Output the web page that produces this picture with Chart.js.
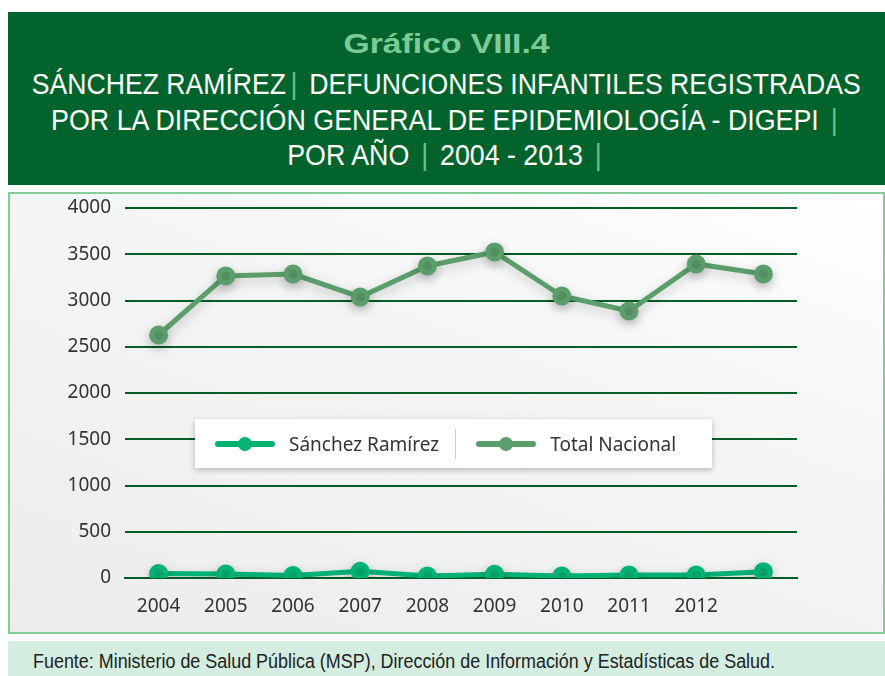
<!DOCTYPE html>
<html>
<head>
<meta charset="utf-8">
<script src="https://cdn.jsdelivr.net/npm/chart.js@4.4.1/dist/chart.umd.min.js"></script>
<style>
  body { margin: 0; width: 885px; height: 676px; background: #fff; position: relative; overflow: hidden; font-family: "Noto Sans", sans-serif; }
  #header { position: absolute; left: 8px; top: 12px; width: 877px; height: 173px; background: #02642c; color: #fff; font-family: "Liberation Sans", sans-serif; overflow: hidden; }
  .fit { position: absolute; left: 0; width: 877px; display: flex; justify-content: center; white-space: nowrap; }
  .fit span.in { display: inline-block; flex: none; transform-origin: center center; }
  #header .sub { color: #7ccb96; font-weight: bold; font-size: 27px; top: 17px; line-height: 30px; }
  #header .t { font-size: 30px; line-height: 34px; }
  #header .p { color: #6fbf8a; padding: 0 5px; }
  #panel { position: absolute; left: 8px; top: 192px; width: 873px; height: 438px; border: 2px solid #84cd97;
           background: linear-gradient(200deg, #ffffff 0%, #f4f5f5 40%, #ececed 100%); }
  #chartWrap { position: absolute; left: 0; top: 0; width: 873px; height: 438px; }
  #legend { position: absolute; left: 185px; top: 225px; width: 517px; height: 49px; background: #fff;
            box-shadow: 0 2px 6px rgba(0,0,0,0.25); display: flex; align-items: center; font-size: 19px; color: #333; }
  #legend .item { display: flex; align-items: center; }
  #legend .sample { position: relative; width: 60px; height: 6px; border-radius: 3px; margin: 0 14px 0 20px; }
  #legend .sample i { position: absolute; left: 23px; top: -4px; width: 14px; height: 14px; border-radius: 7px; }
  #legend .sep { width: 1px; height: 30px; background: #ccc; margin: 0 0 0 16px; }
  #footer { position: absolute; left: 8px; top: 641px; width: 877px; height: 35px; background: #d3ede0; color: #222;
            font-family: "Liberation Sans", sans-serif; font-size: 20px; line-height: 35px; padding: 3px 0 0 25px; box-sizing: border-box; white-space: nowrap; }
  #footer span { display: inline-block; transform-origin: left center; }
</style>
</head>
<body>
<div id="header">
  <div class="fit sub"><span class="in" data-w="206">Gráfico VIII.4</span></div>
  <div class="fit t" style="top:55px"><span class="in" data-w="829">SÁNCHEZ RAMÍREZ<span class="p">|</span> DEFUNCIONES INFANTILES REGISTRADAS</span></div>
  <div class="fit t" style="top:91px"><span class="in" data-w="791">POR LA DIRECCIÓN GENERAL DE EPIDEMIOLOGÍA - DIGEPI <span class="p">|</span></span></div>
  <div class="fit t" style="top:126px"><span class="in" data-w="319">POR AÑO <span class="p">|</span> 2004 - 2013 <span class="p">|</span></span></div>
</div>
<div id="panel">
  <div id="chartWrap"><canvas id="chart"></canvas></div>
  <div id="legend"></div>
</div>
<div id="footer"><span data-w="742">Fuente: Ministerio de Salud Pública (MSP), Dirección de Información y Estadísticas de Salud.</span></div>
<script>
// datos
const years = ['2004', '2005', '2006', '2007', '2008', '2009', '2010', '2011', '2012', ''];
const sanchezRamirez = [48, 44, 28, 72, 22, 40, 22, 32, 32, 68];
const totalNacional = [2627, 3265, 3286, 3038, 3373, 3524, 3049, 2886, 3395, 3286];
const yTicks = [0, 500, 1000, 1500, 2000, 2500, 3000, 3500, 4000];

const colorSR = '#00b373';
const colorTN = '#5b9e6b';

// ajustar textos condensados al ancho
document.querySelectorAll('[data-w]').forEach(el => {
  const w = el.getBoundingClientRect().width;
  el.style.transform = 'scaleX(' + (el.dataset.w / w) + ')';
});

// sombra de las líneas
const shadowPlugin = {
  id: 'lineShadow',
  beforeDatasetDraw(chart) {
    const c = chart.ctx;
    c.save();
    c.shadowColor = 'rgba(0,0,0,0.22)';
    c.shadowBlur = 12;
    c.shadowOffsetY = 4;
  },
  afterDatasetDraw(chart) {
    chart.ctx.restore();
  }
};

const tickFont = { family: '"Noto Sans", sans-serif', size: 19 };

const chart = new Chart(document.getElementById('chart'), {
  type: 'line',
  data: {
    labels: years,
    datasets: [
      { label: 'Sánchez Ramírez', data: sanchezRamirez, borderColor: colorSR, backgroundColor: colorSR,
        borderWidth: 5, pointRadius: 7, pointHoverRadius: 7, tension: 0 },
      { label: 'Total Nacional', data: totalNacional, borderColor: colorTN, backgroundColor: colorTN,
        borderWidth: 5, pointRadius: 7, pointHoverRadius: 7, tension: 0 }
    ]
  },
  options: {
    responsive: true,
    maintainAspectRatio: false,
    animation: false,
    layout: { padding: { top: 14, right: 86, bottom: 0, left: 0 } },
    plugins: { legend: { display: false }, tooltip: { enabled: false } },
    scales: {
      x: {
        offset: true,
        grid: { display: false },
        border: { display: true, color: '#005e25', width: 2 },
        ticks: { color: '#333', font: tickFont, padding: 9, maxRotation: 0, autoSkip: false },
        afterFit(scale) { scale.height = 54; scale.paddingLeft = 0; scale.paddingRight = 0; }
      },
      y: {
        min: 0,
        max: 4000,
        afterBuildTicks(scale) { scale.ticks = yTicks.map(v => ({ value: v })); },
        grid: { color: '#005e25', lineWidth: 2, drawTicks: false },
        border: { display: false },
        ticks: { color: '#333', font: tickFont, padding: 14, callback: v => String(v) },
        afterFit(scale) { scale.width = 115; scale.paddingTop = 0; scale.paddingBottom = 0; }
      }
    }
  },
  plugins: [shadowPlugin]
});

// leyenda
const legend = document.getElementById('legend');
chart.data.datasets.forEach((ds, i) => {
  if (i > 0) {
    const sep = document.createElement('div');
    sep.className = 'sep';
    legend.appendChild(sep);
  }
  const item = document.createElement('div');
  item.className = 'item';
  item.innerHTML = '<span class="sample" style="background:' + ds.borderColor + '"><i style="background:' + ds.borderColor + '"></i></span><span>' + ds.label + '</span>';
  legend.appendChild(item);
});
</script>
</body>
</html>
